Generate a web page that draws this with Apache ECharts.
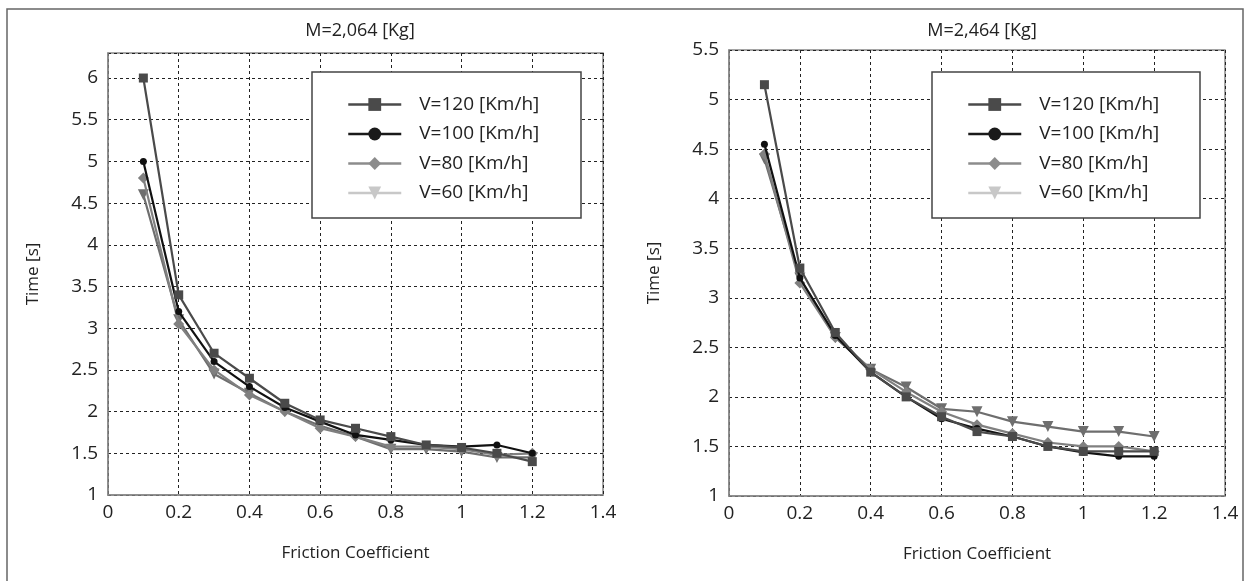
<!DOCTYPE html>
<html>
<head>
<meta charset="utf-8">
<script src="https://cdn.jsdelivr.net/npm/echarts@6/dist/echarts.min.js"></script>
<style>html,body{margin:0;padding:0;background:#fff}#c{width:1250px;height:581px}</style>
</head>
<body>
<div id="c"></div>
<script>
const friction = [0.1, 0.2, 0.3, 0.4, 0.5, 0.6, 0.7, 0.8, 0.9, 1.0, 1.1, 1.2];
const seriesNames = ['V=120 [Km/h]', 'V=100 [Km/h]', 'V=80 [Km/h]', 'V=60 [Km/h]'];
const titles = ['M=2,064 [Kg]', 'M=2,464 [Kg]'];
const xAxisName = 'Friction Coefficient';
const yAxisName = 'Time [s]';

// Left panel: M=2,064 kg
const left_v120 = [6.0, 3.4, 2.7, 2.4, 2.1, 1.9, 1.8, 1.7, 1.6, 1.57, 1.5, 1.4];
const left_v100 = [5.0, 3.2, 2.6, 2.3, 2.05, 1.88, 1.72, 1.66, 1.6, 1.58, 1.6, 1.5];
const left_v80  = [4.8, 3.05, 2.5, 2.2, 2.0, 1.8, 1.7, 1.58, 1.58, 1.55, 1.48, 1.5];
const left_v60  = [4.6, 3.1, 2.45, 2.22, 2.0, 1.83, 1.7, 1.55, 1.55, 1.52, 1.45, 1.45];

// Right panel: M=2,464 kg
const right_v120 = [5.15, 3.3, 2.65, 2.25, 2.0, 1.8, 1.65, 1.6, 1.5, 1.45, 1.45, 1.45];
const right_v100 = [4.55, 3.2, 2.62, 2.25, 2.0, 1.78, 1.68, 1.6, 1.5, 1.44, 1.4, 1.4];
const right_v80  = [4.45, 3.15, 2.6, 2.28, 2.05, 1.85, 1.72, 1.63, 1.54, 1.5, 1.5, 1.45];
const right_v60  = [4.4, 3.2, 2.6, 2.28, 2.1, 1.88, 1.85, 1.75, 1.7, 1.65, 1.65, 1.6];

const leftData = [left_v120, left_v100, left_v80, left_v60];
const rightData = [right_v120, right_v100, right_v80, right_v60];

const FONT = 'Open Sans';
const lineColors = ['#4a4a4a', '#111111', '#808080', '#6e6e6e'];
const legendColors = ['#4a4a4a', '#1a1a1a', '#8c8c8c', '#c8c8c8'];
const symbols = ['rect', 'circle', 'diamond', 'triangle'];
const symbolSizes = [9, 7, 11, 11];
const symbolRotate = [0, 0, 0, 180];

const chart = echarts.init(document.getElementById('c'), null, {renderer: 'canvas'});

function pair(xs, ys) { return xs.map((x, i) => [x, ys[i]]); }

const grids = [
  {left: 108, top: 53, width: 495, height: 442},
  {left: 729, top: 50, width: 496, height: 446}
];

const textColor = '#222';
const gridLine = {show: true, lineStyle: {color: '#222', type: [3, 3], width: 1}};

const xAxes = [0, 1].map(i => ({
  type: 'value', gridIndex: i, min: 0, max: 1.4, interval: 0.2,
  name: xAxisName, nameLocation: 'middle', nameGap: 50,
  nameTextStyle: {fontFamily: FONT, fontSize: 17, color: textColor},
  axisLine: {show: true, lineStyle: {color: '#888', width: 1.5}},
  axisTick: {show: false},
  axisLabel: {fontFamily: FONT, fontSize: 19, color: textColor, margin: 8},
  splitLine: gridLine
}));

const yAxes = [
  {max: 6.3}, {max: 5.5}
].map((o, i) => ({
  type: 'value', gridIndex: i, min: 1, max: o.max, interval: 0.5,
  name: yAxisName, nameLocation: 'middle', nameGap: 66,
  nameTextStyle: {fontFamily: FONT, fontSize: 17, color: textColor},
  axisLine: {show: true, lineStyle: {color: '#888', width: 1.5}},
  axisTick: {show: false},
  axisLabel: {fontFamily: FONT, fontSize: 19, color: textColor, margin: 10, showMaxLabel: i === 1},
  splitLine: gridLine
}));

const series = [];
[leftData, rightData].forEach((set, gi) => {
  set.forEach((ys, si) => {
    series.push({
      type: 'line', name: seriesNames[si], xAxisIndex: gi, yAxisIndex: gi,
      data: pair(friction, ys),
      symbol: symbols[si], symbolSize: symbolSizes[si], symbolRotate: symbolRotate[si],
      showAllSymbol: true,
      lineStyle: {color: lineColors[si], width: 2.2},
      itemStyle: {color: lineColors[si]},
      emphasis: {disabled: true},
      z: 10 - si
    });
  });
});

function legendFor(leftPx) {
  return {
    left: leftPx, top: 90, orient: 'vertical',
    itemWidth: 53, itemHeight: 16, itemGap: 10.5,
    selectedMode: false,
    textStyle: {fontFamily: FONT, fontSize: 19, color: textColor, lineHeight: 16, padding: [0, 0, 0, 13]},
    data: seriesNames.map((n, i) => ({
      name: n,
      itemStyle: {color: legendColors[i]},
      lineStyle: {color: legendColors[i], width: 2.5}
    }))
  };
}

chart.setOption({
  animation: false,
  backgroundColor: '#fff',
  title: [
    {text: titles[0], left: 355, top: 17, textAlign: 'center', textStyle: {fontFamily: FONT, fontSize: 18, fontWeight: 'normal', color: textColor}},
    {text: titles[1], left: 977, top: 17, textAlign: 'center', textStyle: {fontFamily: FONT, fontSize: 18, fontWeight: 'normal', color: textColor}}
  ],
  graphic: [
    {type: 'rect', shape: {x: 7, y: 9, width: 1236, height: 620}, style: {fill: 'none', stroke: '#666', lineWidth: 1.5}, z: -10, silent: true},
    {type: 'rect', shape: {x: 312, y: 72, width: 269, height: 146}, style: {fill: '#fff', stroke: '#444', lineWidth: 1.5}, z: 50, silent: true},
    {type: 'rect', shape: {x: 932, y: 72, width: 268, height: 146}, style: {fill: '#fff', stroke: '#444', lineWidth: 1.5}, z: 50, silent: true}
  ],
  grid: grids.map(g => Object.assign({show: true, borderColor: '#888', borderWidth: 1.5, backgroundColor: 'transparent'}, g)),
  xAxis: xAxes,
  yAxis: yAxes,
  legend: [Object.assign(legendFor(342), {z: 60}), Object.assign(legendFor(962), {z: 60})],
  series: series
});
</script>
</body>
</html>
